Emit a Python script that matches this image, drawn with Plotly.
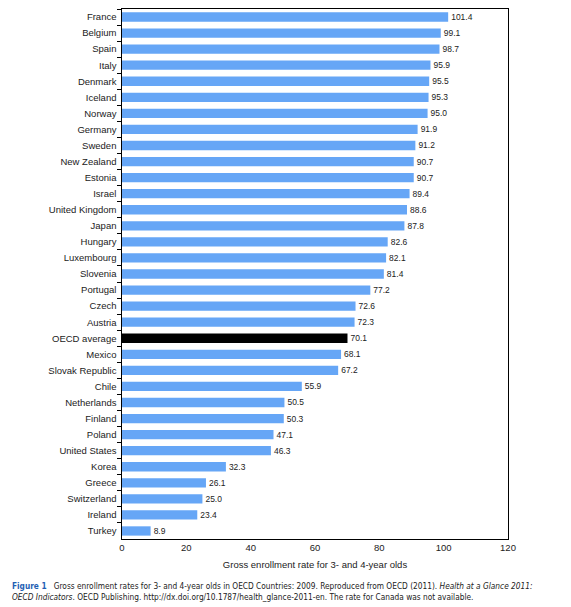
import plotly.graph_objects as go

countries = ["France", "Belgium", "Spain", "Italy", "Denmark", "Iceland", "Norway", "Germany",
             "Sweden", "New Zealand", "Estonia", "Israel", "United Kingdom", "Japan", "Hungary",
             "Luxembourg", "Slovenia", "Portugal", "Czech", "Austria", "OECD average", "Mexico",
             "Slovak Republic", "Chile", "Netherlands", "Finland", "Poland", "United States",
             "Korea", "Greece", "Switzerland", "Ireland", "Turkey"]
values = [101.4, 99.1, 98.7, 95.9, 95.5, 95.3, 95.0, 91.9, 91.2, 90.7, 90.7, 89.4, 88.6, 87.8,
          82.6, 82.1, 81.4, 77.2, 72.6, 72.3, 70.1, 68.1, 67.2, 55.9, 50.5, 50.3, 47.1, 46.3,
          32.3, 26.1, 25.0, 23.4, 8.9]
x_ticks = [0, 20, 40, 60, 80, 100, 120]

colors = ["#000000" if c == "OECD average" else "#66a6f6" for c in countries]

W, H = 563, 599
L, R, T, B = 114, 63, 1, 68
PW, PH = W - L - R, H - T - B

fig = go.Figure(go.Bar(
    y=countries, x=values, orientation="h",
    marker=dict(color=colors, line=dict(width=0)),
    text=[f"{v:.1f}" for v in values], textposition="outside",
    textfont=dict(family="Liberation Sans, Arial", size=10, color="#222"),
    cliponaxis=False,
))

fig.update_layout(
    width=W, height=H,
    margin=dict(l=L, r=R, t=T, b=B, autoexpand=False),
    plot_bgcolor="white", paper_bgcolor="white",
    bargap=0.42, showlegend=False,
    font=dict(family="Liberation Sans, Arial", size=9.5, color="#222"),
)
fig.update_yaxes(autorange="reversed", showline=True, linecolor="black", linewidth=1, mirror=True,
                 ticks="outside", ticklen=4, tickcolor="black", tickson="boundaries",
                 showgrid=False, ticksuffix=" ", automargin=False)
fig.update_xaxes(range=[0, 120], tickvals=x_ticks, showline=True, linecolor="black", linewidth=1,
                 mirror=True, showgrid=False, zeroline=False, ticks="", automargin=False,
                 title=dict(text="Gross enrollment rate for 3- and 4-year olds", standoff=8,
                            font=dict(size=9.5)))

fig.add_annotation(
    xref="paper", yref="paper", x=-(L - 2) / PW, y=-40 / PH, xanchor="left", yanchor="top",
    align="left", showarrow=False,
    font=dict(family="DejaVu Sans Condensed, Liberation Sans, Arial", size=8.25, color="#222"),
    text=("<b><span style='color:#1f5fb4'>Figure 1</span></b>   Gross enrollment rates for 3- and 4-year olds in OECD Countries: 2009. "
          "Reproduced from OECD (2011). <i>Health at a Glance 2011:</i><br>"
          "<i>OECD Indicators</i>. OECD Publishing. http://dx.doi.org/10.1787/health_glance-2011-en. "
          "The rate for Canada was not available."),
)

fig.write_html("out.html")
